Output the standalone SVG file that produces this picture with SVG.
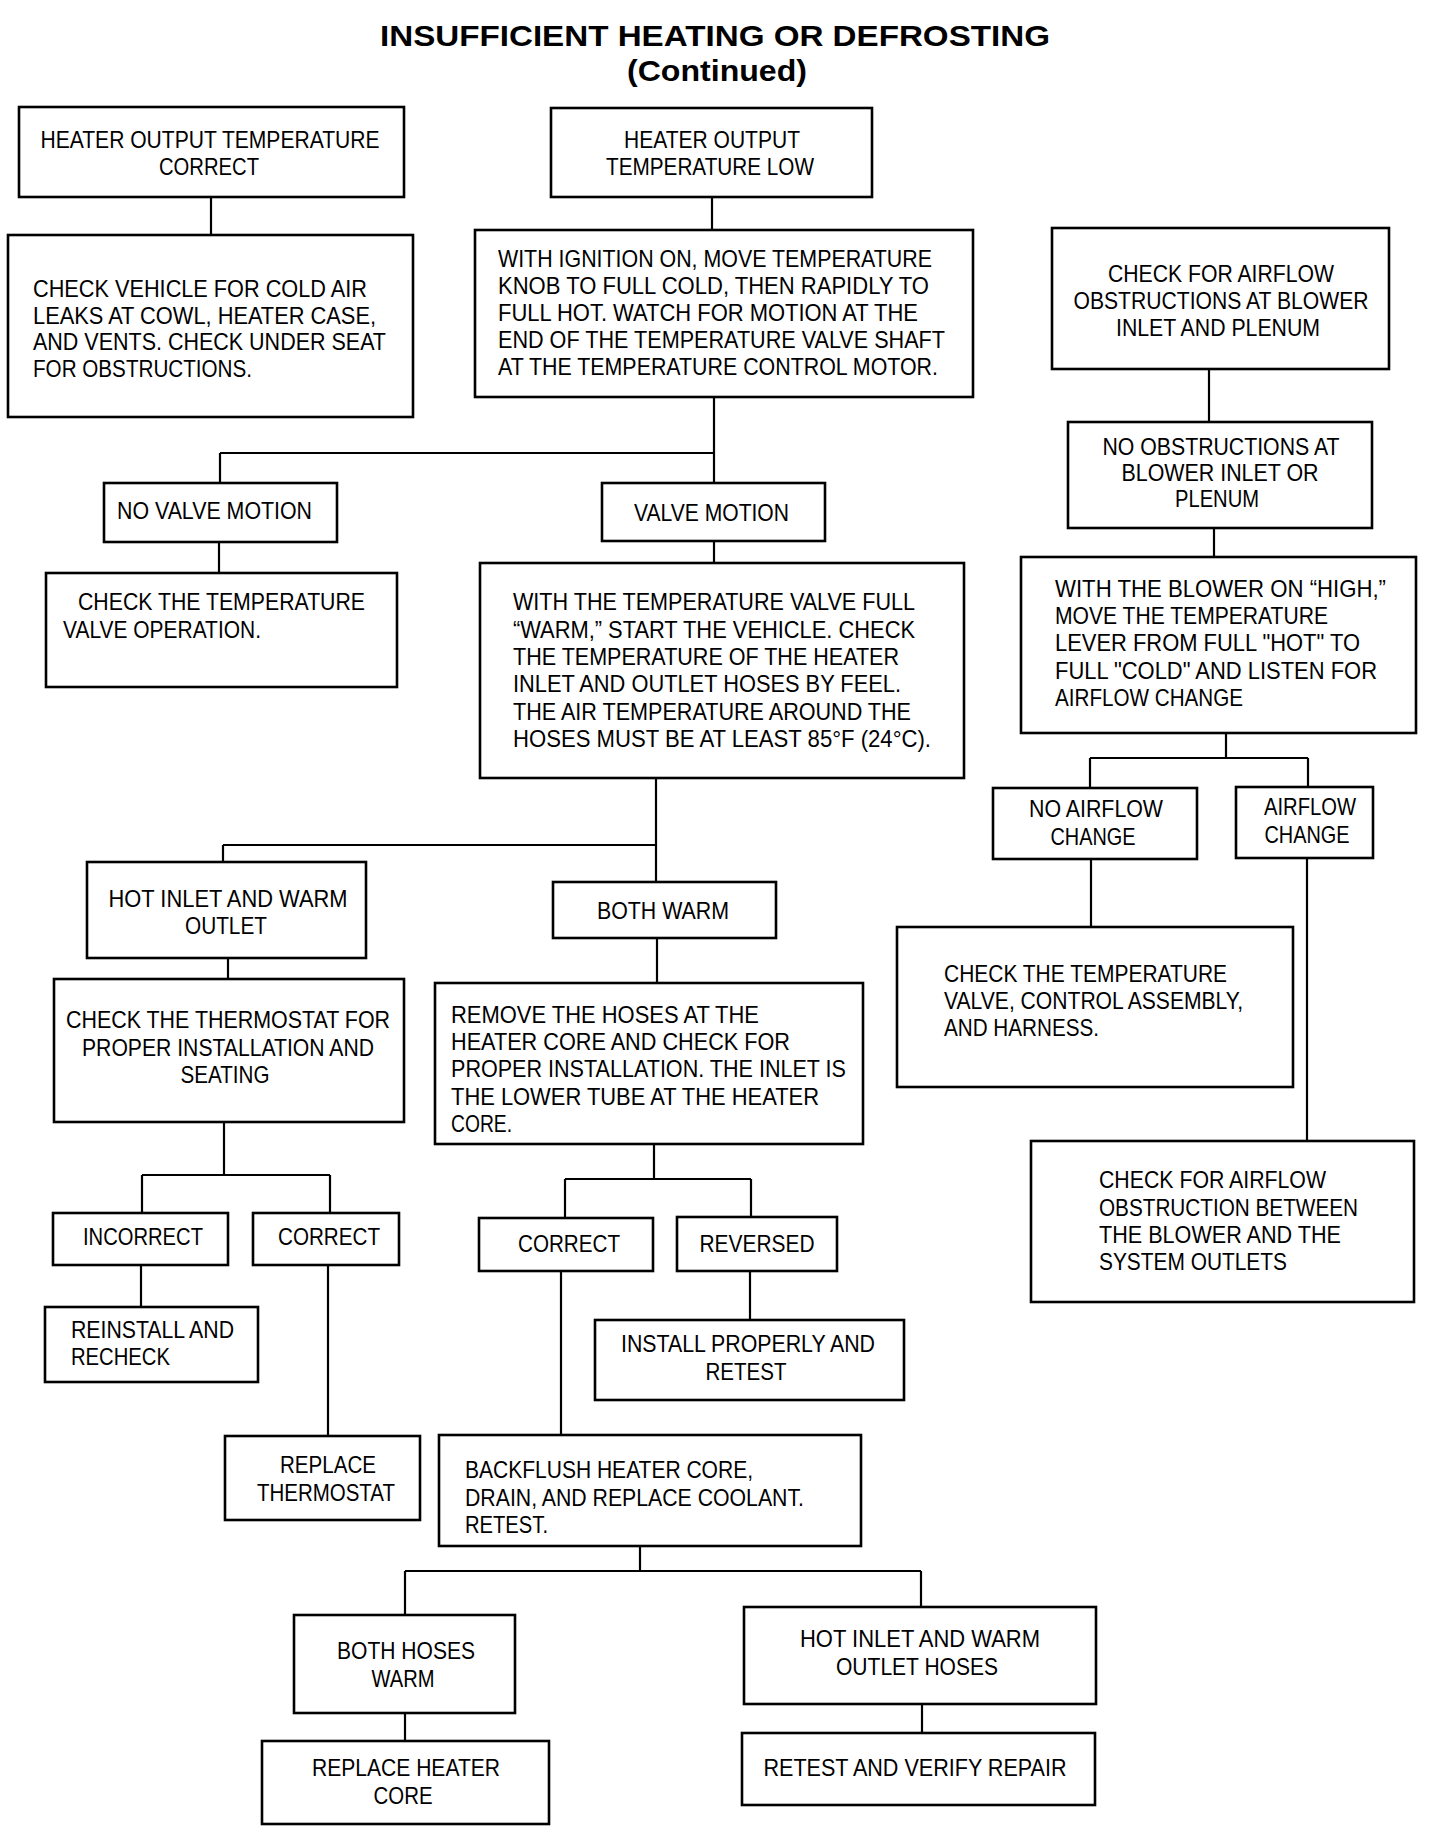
<svg xmlns="http://www.w3.org/2000/svg" width="1440" height="1846" viewBox="0 0 1440 1846">
<style>
  .bg { fill: #ffffff; }
  .box { fill: #ffffff; stroke: #000000; stroke-width: 2.6; }
  .con { fill: none; stroke: #000000; stroke-width: 2.2; }
  text { font-family: "Liberation Sans", Arial, sans-serif; font-size: 24px; fill: #000000; }
  .c { text-anchor: middle; }
  .title { font-size: 30px; font-weight: bold; text-anchor: middle; }
</style>
<rect class="bg" x="0" y="0" width="1440" height="1846"/>
<g id="title">
  <text class="title" x="715" y="46" textLength="670" lengthAdjust="spacingAndGlyphs">INSUFFICIENT HEATING OR DEFROSTING</text>
  <text class="title" x="717" y="81" textLength="180" lengthAdjust="spacingAndGlyphs">(Continued)</text>
</g>
<g id="connectors">
  <path class="con" d="M211,197 V235"/>
  <path class="con" d="M712,197 V230"/>
  <path class="con" d="M714,397 V453 M220,453 H714 M220,453 V483 M714,453 V483"/>
  <path class="con" d="M219,542 V573"/>
  <path class="con" d="M714,541 V563"/>
  <path class="con" d="M1209,369 V422"/>
  <path class="con" d="M1214,528 V557"/>
  <path class="con" d="M1226,733 V758 M1090,758 H1308 M1090,758 V788 M1308,758 V787"/>
  <path class="con" d="M1091,859 V927"/>
  <path class="con" d="M1307,858 V1141"/>
  <path class="con" d="M656,778 V845 M223,845 H656 M223,845 V862 M656,845 V882"/>
  <path class="con" d="M228,958 V979"/>
  <path class="con" d="M657,938 V983"/>
  <path class="con" d="M224,1122 V1175 M142,1175 H330 M142,1175 V1213 M330,1175 V1213"/>
  <path class="con" d="M141,1265 V1307"/>
  <path class="con" d="M328,1265 V1436"/>
  <path class="con" d="M654,1144 V1179 M565,1179 H751 M565,1179 V1218 M751,1179 V1217"/>
  <path class="con" d="M750,1271 V1320"/>
  <path class="con" d="M561,1271 V1435"/>
  <path class="con" d="M640,1546 V1571 M405,1571 H921 M405,1571 V1615 M921,1571 V1607"/>
  <path class="con" d="M405,1713 V1741"/>
  <path class="con" d="M922,1704 V1733"/>
</g>
<g id="n_output_correct">
  <rect class="box" x="19" y="107" width="385" height="90"/>
  <text class="c" x="210" y="148" textLength="339" lengthAdjust="spacingAndGlyphs">HEATER OUTPUT TEMPERATURE</text>
  <text class="c" x="209" y="175" textLength="100" lengthAdjust="spacingAndGlyphs">CORRECT</text>
</g>
<g id="n_check_vehicle">
  <rect class="box" x="8" y="235" width="405" height="182"/>
  <text x="33" y="297" textLength="334" lengthAdjust="spacingAndGlyphs">CHECK VEHICLE FOR COLD AIR</text>
  <text x="33" y="324" textLength="343" lengthAdjust="spacingAndGlyphs">LEAKS AT COWL, HEATER CASE,</text>
  <text x="33" y="350" textLength="353" lengthAdjust="spacingAndGlyphs">AND VENTS. CHECK UNDER SEAT</text>
  <text x="33" y="377" textLength="219" lengthAdjust="spacingAndGlyphs">FOR OBSTRUCTIONS.</text>
</g>
<g id="n_output_low">
  <rect class="box" x="551" y="108" width="321" height="89"/>
  <text class="c" x="712" y="148" textLength="176" lengthAdjust="spacingAndGlyphs">HEATER OUTPUT</text>
  <text class="c" x="710" y="175" textLength="208" lengthAdjust="spacingAndGlyphs">TEMPERATURE LOW</text>
</g>
<g id="n_ignition_on">
  <rect class="box" x="475" y="230" width="498" height="167"/>
  <text x="498" y="267" textLength="434" lengthAdjust="spacingAndGlyphs">WITH IGNITION ON, MOVE TEMPERATURE</text>
  <text x="498" y="294" textLength="431" lengthAdjust="spacingAndGlyphs">KNOB TO FULL COLD, THEN RAPIDLY TO</text>
  <text x="498" y="321" textLength="420" lengthAdjust="spacingAndGlyphs">FULL HOT. WATCH FOR MOTION AT THE</text>
  <text x="498" y="348" textLength="447" lengthAdjust="spacingAndGlyphs">END OF THE TEMPERATURE VALVE SHAFT</text>
  <text x="498" y="375" textLength="440" lengthAdjust="spacingAndGlyphs">AT THE TEMPERATURE CONTROL MOTOR.</text>
</g>
<g id="n_check_airflow_inlet">
  <rect class="box" x="1052" y="228" width="337" height="141"/>
  <text class="c" x="1221" y="282" textLength="226" lengthAdjust="spacingAndGlyphs">CHECK FOR AIRFLOW</text>
  <text class="c" x="1221" y="309" textLength="295" lengthAdjust="spacingAndGlyphs">OBSTRUCTIONS AT BLOWER</text>
  <text class="c" x="1218" y="336" textLength="204" lengthAdjust="spacingAndGlyphs">INLET AND PLENUM</text>
</g>
<g id="n_no_obstructions">
  <rect class="box" x="1068" y="422" width="304" height="106"/>
  <text class="c" x="1221" y="455" textLength="237" lengthAdjust="spacingAndGlyphs">NO OBSTRUCTIONS AT</text>
  <text class="c" x="1220" y="481" textLength="197" lengthAdjust="spacingAndGlyphs">BLOWER INLET OR</text>
  <text class="c" x="1217" y="507" textLength="84" lengthAdjust="spacingAndGlyphs">PLENUM</text>
</g>
<g id="n_blower_high">
  <rect class="box" x="1021" y="557" width="395" height="176"/>
  <text x="1055" y="597" textLength="331" lengthAdjust="spacingAndGlyphs">WITH THE BLOWER ON “HIGH,”</text>
  <text x="1055" y="624" textLength="273" lengthAdjust="spacingAndGlyphs">MOVE THE TEMPERATURE</text>
  <text x="1055" y="651" textLength="305" lengthAdjust="spacingAndGlyphs">LEVER FROM FULL "HOT" TO</text>
  <text x="1055" y="679" textLength="322" lengthAdjust="spacingAndGlyphs">FULL "COLD" AND LISTEN FOR</text>
  <text x="1055" y="706" textLength="188" lengthAdjust="spacingAndGlyphs">AIRFLOW CHANGE</text>
</g>
<g id="n_no_airflow_change">
  <rect class="box" x="993" y="788" width="204" height="71"/>
  <text class="c" x="1096" y="817" textLength="134" lengthAdjust="spacingAndGlyphs">NO AIRFLOW</text>
  <text class="c" x="1093" y="845" textLength="85" lengthAdjust="spacingAndGlyphs">CHANGE</text>
</g>
<g id="n_airflow_change">
  <rect class="box" x="1236" y="787" width="137" height="71"/>
  <text class="c" x="1310" y="815" textLength="92" lengthAdjust="spacingAndGlyphs">AIRFLOW</text>
  <text class="c" x="1307" y="843" textLength="85" lengthAdjust="spacingAndGlyphs">CHANGE</text>
</g>
<g id="n_check_valve_assembly">
  <rect class="box" x="897" y="927" width="396" height="160"/>
  <text x="944" y="982" textLength="283" lengthAdjust="spacingAndGlyphs">CHECK THE TEMPERATURE</text>
  <text x="944" y="1009" textLength="299" lengthAdjust="spacingAndGlyphs">VALVE, CONTROL ASSEMBLY,</text>
  <text x="944" y="1036" textLength="155" lengthAdjust="spacingAndGlyphs">AND HARNESS.</text>
</g>
<g id="n_check_obstruction_outlets">
  <rect class="box" x="1031" y="1141" width="383" height="161"/>
  <text x="1099" y="1188" textLength="227" lengthAdjust="spacingAndGlyphs">CHECK FOR AIRFLOW</text>
  <text x="1099" y="1216" textLength="259" lengthAdjust="spacingAndGlyphs">OBSTRUCTION BETWEEN</text>
  <text x="1099" y="1243" textLength="242" lengthAdjust="spacingAndGlyphs">THE BLOWER AND THE</text>
  <text x="1099" y="1270" textLength="188" lengthAdjust="spacingAndGlyphs">SYSTEM OUTLETS</text>
</g>
<g id="n_no_valve_motion">
  <rect class="box" x="104" y="483" width="233" height="59"/>
  <text x="117" y="519" textLength="195" lengthAdjust="spacingAndGlyphs">NO VALVE MOTION</text>
</g>
<g id="n_check_valve_operation">
  <rect class="box" x="46" y="573" width="351" height="114"/>
  <text x="78" y="610" textLength="287" lengthAdjust="spacingAndGlyphs">CHECK THE TEMPERATURE</text>
  <text x="63" y="638" textLength="198" lengthAdjust="spacingAndGlyphs">VALVE OPERATION.</text>
</g>
<g id="n_valve_motion">
  <rect class="box" x="602" y="483" width="223" height="58"/>
  <text x="634" y="521" textLength="155" lengthAdjust="spacingAndGlyphs">VALVE MOTION</text>
</g>
<g id="n_valve_full_warm">
  <rect class="box" x="480" y="563" width="484" height="215"/>
  <text x="513" y="610" textLength="402" lengthAdjust="spacingAndGlyphs">WITH THE TEMPERATURE VALVE FULL</text>
  <text x="513" y="638" textLength="402" lengthAdjust="spacingAndGlyphs">“WARM,” START THE VEHICLE. CHECK</text>
  <text x="513" y="665" textLength="386" lengthAdjust="spacingAndGlyphs">THE TEMPERATURE OF THE HEATER</text>
  <text x="513" y="692" textLength="388" lengthAdjust="spacingAndGlyphs">INLET AND OUTLET HOSES BY FEEL.</text>
  <text x="513" y="720" textLength="398" lengthAdjust="spacingAndGlyphs">THE AIR TEMPERATURE AROUND THE</text>
  <text x="513" y="747" textLength="418" lengthAdjust="spacingAndGlyphs">HOSES MUST BE AT LEAST 85°F (24°C).</text>
</g>
<g id="n_hot_inlet_warm_outlet">
  <rect class="box" x="87" y="862" width="279" height="96"/>
  <text class="c" x="228" y="907" textLength="239" lengthAdjust="spacingAndGlyphs">HOT INLET AND WARM</text>
  <text class="c" x="226" y="934" textLength="82" lengthAdjust="spacingAndGlyphs">OUTLET</text>
</g>
<g id="n_both_warm">
  <rect class="box" x="553" y="882" width="223" height="56"/>
  <text class="c" x="663" y="919" textLength="132" lengthAdjust="spacingAndGlyphs">BOTH WARM</text>
</g>
<g id="n_check_thermostat">
  <rect class="box" x="54" y="979" width="350" height="143"/>
  <text class="c" x="228" y="1028" textLength="324" lengthAdjust="spacingAndGlyphs">CHECK THE THERMOSTAT FOR</text>
  <text class="c" x="228" y="1056" textLength="292" lengthAdjust="spacingAndGlyphs">PROPER INSTALLATION AND</text>
  <text class="c" x="225" y="1083" textLength="89" lengthAdjust="spacingAndGlyphs">SEATING</text>
</g>
<g id="n_incorrect">
  <rect class="box" x="53" y="1213" width="175" height="52"/>
  <text class="c" x="143" y="1245" textLength="120" lengthAdjust="spacingAndGlyphs">INCORRECT</text>
</g>
<g id="n_correct_thermostat">
  <rect class="box" x="253" y="1213" width="146" height="52"/>
  <text class="c" x="329" y="1245" textLength="102" lengthAdjust="spacingAndGlyphs">CORRECT</text>
</g>
<g id="n_reinstall">
  <rect class="box" x="45" y="1307" width="213" height="75"/>
  <text x="71" y="1338" textLength="163" lengthAdjust="spacingAndGlyphs">REINSTALL AND</text>
  <text x="71" y="1365" textLength="99" lengthAdjust="spacingAndGlyphs">RECHECK</text>
</g>
<g id="n_replace_thermostat">
  <rect class="box" x="225" y="1436" width="195" height="84"/>
  <text class="c" x="328" y="1473" textLength="96" lengthAdjust="spacingAndGlyphs">REPLACE</text>
  <text class="c" x="326" y="1501" textLength="138" lengthAdjust="spacingAndGlyphs">THERMOSTAT</text>
</g>
<g id="n_remove_hoses">
  <rect class="box" x="435" y="983" width="428" height="161"/>
  <text x="451" y="1023" textLength="308" lengthAdjust="spacingAndGlyphs">REMOVE THE HOSES AT THE</text>
  <text x="451" y="1050" textLength="339" lengthAdjust="spacingAndGlyphs">HEATER CORE AND CHECK FOR</text>
  <text x="451" y="1077" textLength="395" lengthAdjust="spacingAndGlyphs">PROPER INSTALLATION. THE INLET IS</text>
  <text x="451" y="1105" textLength="368" lengthAdjust="spacingAndGlyphs">THE LOWER TUBE AT THE HEATER</text>
  <text x="451" y="1132" textLength="61" lengthAdjust="spacingAndGlyphs">CORE.</text>
</g>
<g id="n_correct_hoses">
  <rect class="box" x="479" y="1218" width="174" height="53"/>
  <text class="c" x="569" y="1252" textLength="102" lengthAdjust="spacingAndGlyphs">CORRECT</text>
</g>
<g id="n_reversed">
  <rect class="box" x="677" y="1217" width="160" height="54"/>
  <text class="c" x="757" y="1252" textLength="115" lengthAdjust="spacingAndGlyphs">REVERSED</text>
</g>
<g id="n_install_properly">
  <rect class="box" x="595" y="1320" width="309" height="80"/>
  <text class="c" x="748" y="1352" textLength="254" lengthAdjust="spacingAndGlyphs">INSTALL PROPERLY AND</text>
  <text class="c" x="746" y="1380" textLength="81" lengthAdjust="spacingAndGlyphs">RETEST</text>
</g>
<g id="n_backflush">
  <rect class="box" x="439" y="1435" width="422" height="111"/>
  <text x="465" y="1478" textLength="288" lengthAdjust="spacingAndGlyphs">BACKFLUSH HEATER CORE,</text>
  <text x="465" y="1506" textLength="339" lengthAdjust="spacingAndGlyphs">DRAIN, AND REPLACE COOLANT.</text>
  <text x="465" y="1533" textLength="83" lengthAdjust="spacingAndGlyphs">RETEST.</text>
</g>
<g id="n_both_hoses_warm">
  <rect class="box" x="294" y="1615" width="221" height="98"/>
  <text class="c" x="406" y="1659" textLength="138" lengthAdjust="spacingAndGlyphs">BOTH HOSES</text>
  <text class="c" x="403" y="1687" textLength="63" lengthAdjust="spacingAndGlyphs">WARM</text>
</g>
<g id="n_hot_inlet_warm_outlet_hoses">
  <rect class="box" x="744" y="1607" width="352" height="97"/>
  <text class="c" x="920" y="1647" textLength="240" lengthAdjust="spacingAndGlyphs">HOT INLET AND WARM</text>
  <text class="c" x="917" y="1675" textLength="162" lengthAdjust="spacingAndGlyphs">OUTLET HOSES</text>
</g>
<g id="n_replace_core">
  <rect class="box" x="262" y="1741" width="287" height="83"/>
  <text class="c" x="406" y="1776" textLength="188" lengthAdjust="spacingAndGlyphs">REPLACE HEATER</text>
  <text class="c" x="403" y="1804" textLength="59" lengthAdjust="spacingAndGlyphs">CORE</text>
</g>
<g id="n_retest_verify">
  <rect class="box" x="742" y="1733" width="353" height="72"/>
  <text class="c" x="915" y="1776" textLength="303" lengthAdjust="spacingAndGlyphs">RETEST AND VERIFY REPAIR</text>
</g>
</svg>
